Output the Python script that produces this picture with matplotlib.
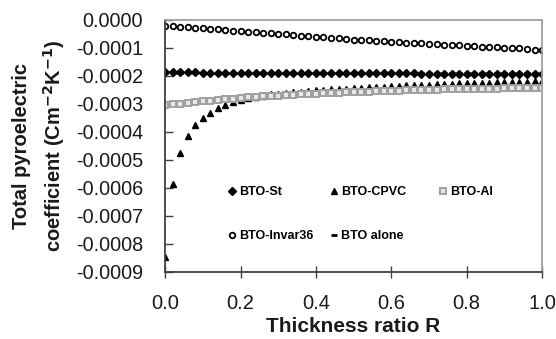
import numpy as np
import matplotlib
matplotlib.use("Agg")
import matplotlib.pyplot as plt
from matplotlib.ticker import FormatStrFormatter

plt.rcParams['font.family'] = ['Liberation Sans', 'DejaVu Sans']
plt.rcParams['axes.unicode_minus'] = False

# Thickness ratio R
R = [0.00, 0.02, 0.04, 0.06, 0.08, 0.10, 0.12, 0.14, 0.16, 0.18,
     0.20, 0.22, 0.24, 0.26, 0.28, 0.30, 0.32, 0.34, 0.36, 0.38,
     0.40, 0.42, 0.44, 0.46, 0.48, 0.50, 0.52, 0.54, 0.56, 0.58,
     0.60, 0.62, 0.64, 0.66, 0.68, 0.70, 0.72, 0.74, 0.76, 0.78,
     0.80, 0.82, 0.84, 0.86, 0.88, 0.90, 0.92, 0.94, 0.96, 0.98, 1.00]

# pyroelectric coefficients, in units of 1e-4 C m^-2 K^-1
bto_st = [-1.88, -1.88, -1.88, -1.88, -1.88, -1.89, -1.89, -1.89, -1.89, -1.89,
          -1.89, -1.89, -1.90, -1.90, -1.90, -1.90, -1.90, -1.90, -1.90, -1.91,
          -1.91, -1.91, -1.91, -1.91, -1.91, -1.91, -1.92, -1.92, -1.92, -1.92,
          -1.92, -1.92, -1.92, -1.92, -1.93, -1.93, -1.93, -1.93, -1.93, -1.93,
          -1.93, -1.93, -1.94, -1.94, -1.94, -1.94, -1.94, -1.94, -1.94, -1.94, -1.94]
bto_cpvc = [-8.49, -5.86, -4.77, -4.17, -3.76, -3.51, -3.33, -3.17, -3.05, -2.95,
            -2.86, -2.80, -2.75, -2.71, -2.67, -2.64, -2.61, -2.59, -2.57, -2.55,
            -2.53, -2.51, -2.49, -2.47, -2.46, -2.44, -2.43, -2.41, -2.40, -2.39,
            -2.38, -2.37, -2.35, -2.34, -2.33, -2.32, -2.31, -2.30, -2.29, -2.28,
            -2.27, -2.26, -2.25, -2.25, -2.24, -2.23, -2.22, -2.21, -2.21, -2.20, -2.19]
bto_al = [-3.05, -3.02, -3.00, -2.97, -2.94, -2.92, -2.89, -2.87, -2.84, -2.82,
          -2.80, -2.78, -2.76, -2.74, -2.73, -2.71, -2.70, -2.68, -2.67, -2.65,
          -2.64, -2.63, -2.62, -2.61, -2.60, -2.59, -2.58, -2.57, -2.56, -2.55,
          -2.54, -2.54, -2.53, -2.52, -2.51, -2.51, -2.50, -2.49, -2.49, -2.48,
          -2.48, -2.47, -2.47, -2.46, -2.46, -2.45, -2.45, -2.45, -2.44, -2.44, -2.44]
bto_invar = [-0.21, -0.23, -0.25, -0.27, -0.29, -0.31, -0.33, -0.35, -0.37, -0.39,
             -0.41, -0.43, -0.45, -0.47, -0.49, -0.51, -0.53, -0.55, -0.57, -0.59,
             -0.61, -0.63, -0.65, -0.67, -0.69, -0.71, -0.72, -0.74, -0.76, -0.77,
             -0.79, -0.80, -0.82, -0.83, -0.85, -0.86, -0.88, -0.89, -0.91, -0.92,
             -0.94, -0.95, -0.96, -0.98, -0.99, -1.00, -1.02, -1.03, -1.05, -1.07, -1.09]
bto_alone = [-1.91] * 51

scale = 1e-4

fig = plt.figure(figsize=(5.56, 3.39), dpi=100)
ax = fig.add_axes([0.297, 0.199, 0.678, 0.743])

h_st, = ax.plot(R, np.array(bto_st) * scale, ls='none', marker='D', ms=3.6,
                color='black', label='BTO-St')
h_cpvc, = ax.plot(R, np.array(bto_cpvc) * scale, ls='none', marker='^', ms=5,
                  color='black', label='BTO-CPVC')
h_al, = ax.plot(R, np.array(bto_al) * scale, ls='none', marker='s', ms=4.2,
                mfc='#e8e8e8', mec='#a0a0a0', mew=1.4, label='BTO-Al')
h_inv, = ax.plot(R, np.array(bto_invar) * scale, ls='none', marker='o', ms=4,
                 mfc='white', mec='black', mew=1.3, label='BTO-Invar36')
h_alone, = ax.plot(R, np.array(bto_alone) * scale, ls='none', marker='_', ms=4,
                   mew=2, color='black', label='BTO alone')

ax.set_xlim(0, 1.0)
ax.set_ylim(-0.0009, 0.0)
ax.set_xticks([0.0, 0.2, 0.4, 0.6, 0.8, 1.0])
ax.set_yticks(np.arange(-9, 1) * scale)
ax.xaxis.set_major_formatter(FormatStrFormatter('%.1f'))
ax.yaxis.set_major_formatter(FormatStrFormatter('%.4f'))
ax.tick_params(axis='y', direction='in', length=6, width=1, color='#404040',
               labelsize=14.3, pad=16, labelcolor='#1a1a1a')
ax.tick_params(axis='x', direction='inout', length=8, width=1, color='#404040',
               labelsize=14.5, pad=12, labelcolor='#1a1a1a')

for s in ['left', 'bottom']:
    ax.spines[s].set_color('#404040')
    ax.spines[s].set_linewidth(1.3)
for s in ['top', 'right']:
    ax.spines[s].set_color('#a0a0a0')
    ax.spines[s].set_linewidth(1.3)

ax.set_xlabel('Thickness ratio R', fontsize=15, fontweight='bold', labelpad=3,
              color='#1a1a1a')
ax.set_ylabel('Total pyroelectric\ncoefficient (Cm$^{\\mathbf{-2}}$K$^{\\mathbf{-1}}$)',
              fontsize=14.5, fontweight='bold', labelpad=6, linespacing=1.55,
              color='#1a1a1a')

leg_kw = dict(frameon=False, loc='upper left', prop={'size': 9, 'weight': 'bold'},
              handlelength=0.6, handletextpad=0.3, labelspacing=2.6,
              borderaxespad=0, borderpad=0)
leg1 = ax.legend([h_st, h_inv, h_cpvc, h_alone],
                 ['BTO-St', 'BTO-Invar36', 'BTO-CPVC', 'BTO alone'],
                 ncol=2, columnspacing=1.3, bbox_to_anchor=(0.167, 0.34), **leg_kw)
ax.add_artist(leg1)
ax.legend([h_al], ['BTO-Al'], bbox_to_anchor=(0.727, 0.34), **leg_kw)

fig.savefig('out.png', dpi=100)
